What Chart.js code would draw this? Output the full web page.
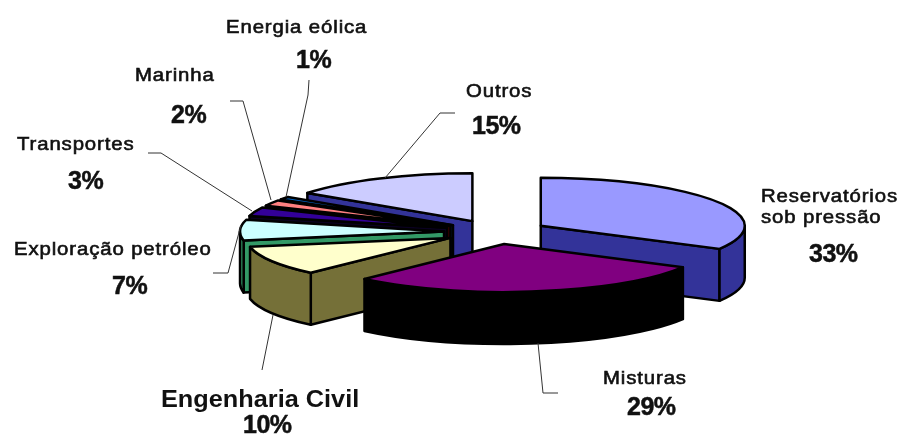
<!DOCTYPE html>
<html>
<head>
<meta charset="utf-8">
<title>Aplicações</title>
<script src="https://cdn.jsdelivr.net/npm/chart.js@4"></script>
<style>
  html, body { margin: 0; padding: 0; background: #fff; }
  canvas { display: block; }
</style>
</head>
<body>
<canvas id="pie" width="902" height="435"></canvas>
<script>
const categories = ['Reservatórios sob pressão', 'Misturas', 'Engenharia Civil', 'Exploração petróleo', 'Transportes', 'Marinha', 'Energia eólica', 'Outros'];
const shares = [33, 29, 10, 7, 3, 2, 1, 15];
const topColors = ['#9999ff', '#800080', '#ffffcc', '#ccffff', '#330099', '#ff8080', '#0066cc', '#ccccff'];
const sideColors = ['#333399', '#000000', '#757038', '#339966', '#0a0020', '#400000', '#001a40', '#333399'];

// text placement: one entry per slice, name lines then the percentage
const nameLines = [['Reservatórios', 'sob pressão'], ['Misturas'], ['Engenharia Civil'], ['Exploração petróleo'], ['Transportes'], ['Marinha'], ['Energia eólica'], ['Outros']];
const namePos = [[[761, 202], [761, 223]], [[603, 384]], [[161, 407]], [[14, 255]], [[17, 150]], [[135, 81]], [[226, 33]], [[466, 97]]];
const valuePos = [[809, 262], [627, 415], [243, 433], [112, 294], [68, 189], [171, 123], [296, 68], [472, 134]];
const leaders = [
  null,
  [[538, 343], [543, 393], [558, 393]],
  [[273, 315], [262, 370]],
  [[241, 225], [228, 273], [213, 273]],
  [[252, 211], [161, 153], [148, 153]],
  [[271, 200], [243, 101], [230, 101]],
  [[286, 197], [308, 95], [309, 80]],
  [[385, 178], [440, 113], [455, 113]]
];

const SQUASH = 0.235;  // vertical flattening of the disc
const DEPTH = 52;      // wall height in px
const TEXT_STRETCH = 1.1;  // labels are set a little wide

function drawSlice(ctx, arc, side) {
  const p = arc.getProps(['x', 'y', 'startAngle', 'endAngle', 'outerRadius']);
  const off = arc.options.offset;
  const mid = (p.startAngle + p.endAngle) / 2;
  const cx = p.x + Math.cos(mid) * off;
  const cy = p.y + Math.sin(mid) * off * SQUASH;
  const r = p.outerRadius, ry = r * SQUASH;

  ctx.lineWidth = 2.5;
  ctx.lineJoin = 'round';
  ctx.strokeStyle = '#000';

  // cut faces, skipping the ones turned away from the viewer
  ctx.fillStyle = side;
  [[p.startAngle, -1], [p.endAngle, 1]].forEach(function (face) {
    const a = face[0];
    if (Math.cos(a) * face[1] <= 0) return;
    const ex = cx + Math.cos(a) * r, ey = cy + Math.sin(a) * ry;
    ctx.beginPath();
    ctx.moveTo(cx, cy);
    ctx.lineTo(ex, ey);
    ctx.lineTo(ex, ey + DEPTH);
    ctx.lineTo(cx, cy + DEPTH);
    ctx.closePath();
    ctx.fill();
    ctx.stroke();
  });

  // outer wall, only the part that faces front
  const a0 = Math.max(p.startAngle, 0), a1 = Math.min(p.endAngle, Math.PI);
  if (a0 < a1) {
    ctx.beginPath();
    ctx.ellipse(cx, cy, r, ry, 0, a0, a1);
    ctx.ellipse(cx, cy + DEPTH, r, ry, 0, a1, a0, true);
    ctx.closePath();
    ctx.fill();
    ctx.stroke();
  }

  // top
  ctx.fillStyle = arc.options.backgroundColor;
  ctx.beginPath();
  ctx.moveTo(cx, cy);
  ctx.ellipse(cx, cy, r, ry, 0, p.startAngle, p.endAngle);
  ctx.closePath();
  ctx.fill();
  ctx.stroke();
}

const pie3d = {
  id: 'pie3d',
  beforeDatasetDraw(chart, args) {
    const ctx = chart.ctx;
    const arcs = args.meta.data.slice();
    // paint from the back of the disc to the front
    arcs.sort(function (a, b) {
      const ma = (a.startAngle + a.endAngle) / 2, mb = (b.startAngle + b.endAngle) / 2;
      return Math.sin(ma) - Math.sin(mb);
    });
    ctx.save();
    arcs.forEach(function (arc) {
      drawSlice(ctx, arc, sideColors[args.meta.data.indexOf(arc)]);
    });
    ctx.restore();
    return false;
  }
};

function wideText(ctx, text, x, y, outlined) {
  ctx.save();
  ctx.translate(x, y);
  ctx.scale(TEXT_STRETCH, 1);
  ctx.fillText(text, 0, 0);
  if (outlined) ctx.strokeText(text, 0, 0);
  ctx.restore();
}

const pieLabels = {
  id: 'pieLabels',
  afterDraw(chart) {
    const ctx = chart.ctx;
    ctx.save();
    ctx.strokeStyle = '#333';
    ctx.lineWidth = 1;
    leaders.forEach(function (pts) {
      if (!pts) return;
      ctx.beginPath();
      pts.forEach(function (q, i) { i ? ctx.lineTo(q[0], q[1]) : ctx.moveTo(q[0], q[1]); });
      ctx.stroke();
    });

    ctx.textBaseline = 'alphabetic';
    ctx.fillStyle = '#111';
    ctx.strokeStyle = '#111';
    categories.forEach(function (name, i) {
      const civil = name === 'Engenharia Civil';
      ctx.font = civil ? 'bold 23px "Liberation Sans"' : '18.5px "Liberation Sans"';
      ctx.letterSpacing = civil ? '0px' : '0.8px';
      ctx.lineWidth = 0.6;
      nameLines[i].forEach(function (line, j) {
        wideText(ctx, line, namePos[i][j][0], namePos[i][j][1], !civil);
      });
      ctx.font = 'bold 25px "Liberation Sans"';
      ctx.letterSpacing = '-0.5px';
      ctx.lineWidth = 0.5;
      ctx.fillText(shares[i] + '%', valuePos[i][0], valuePos[i][1]);
      ctx.strokeText(shares[i] + '%', valuePos[i][0], valuePos[i][1]);
    });
    ctx.restore();
  }
};

new Chart(document.getElementById('pie'), {
  type: 'pie',
  data: {
    labels: categories,
    datasets: [{
      data: shares,
      backgroundColor: topColors,
      borderWidth: 0,
      offset: 52
    }]
  },
  options: {
    responsive: false,
    animation: false,
    events: [],
    radius: 204,
    layout: { padding: { left: 90, top: 29 } },
    plugins: { legend: { display: false }, tooltip: { enabled: false } }
  },
  plugins: [pie3d, pieLabels]
});
</script>
</body>
</html>
